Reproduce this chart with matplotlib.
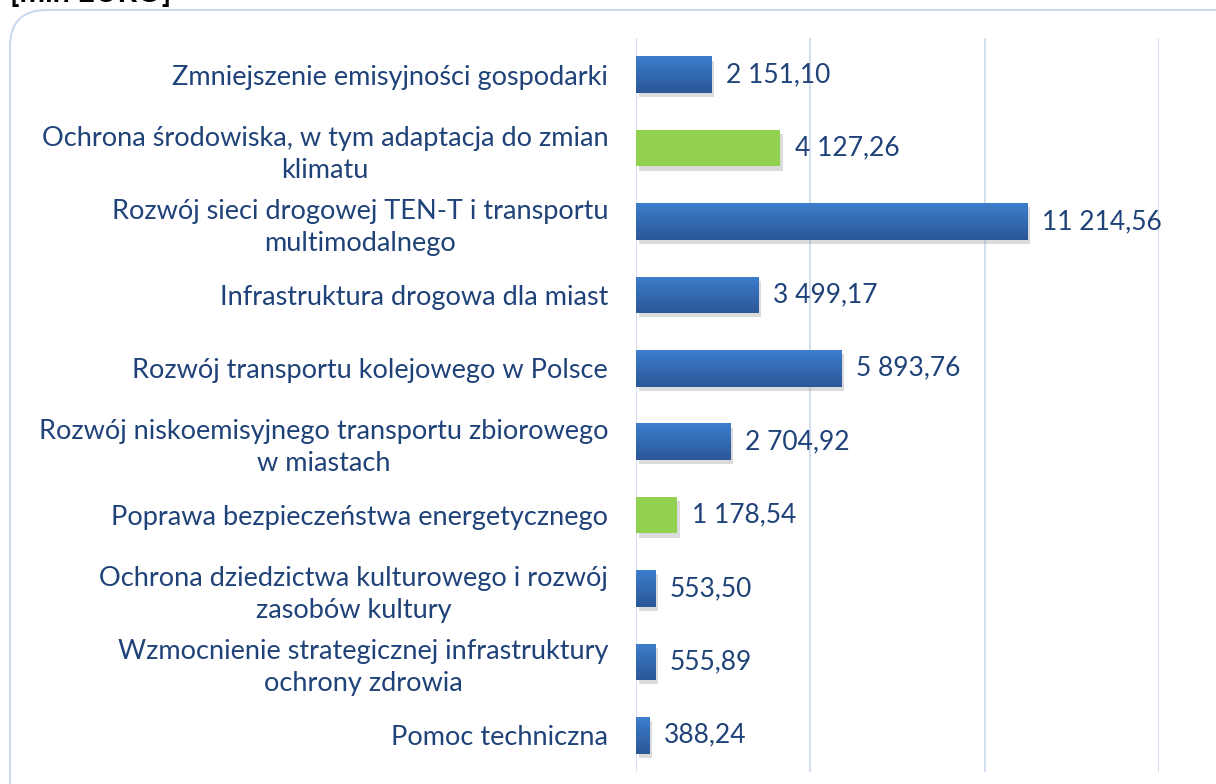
import matplotlib.pyplot as plt
import numpy as np
from matplotlib.patches import FancyBboxPatch
from matplotlib.colors import LinearSegmentedColormap
import matplotlib.patheffects as pe

categories = [
    "Zmniejszenie emisyjności gospodarki",
    "Ochrona środowiska, w tym adaptacja do zmian\nklimatu",
    "Rozwój sieci drogowej TEN-T i transportu\nmultimodalnego",
    "Infrastruktura drogowa dla miast",
    "Rozwój transportu kolejowego w Polsce",
    "Rozwój niskoemisyjnego transportu zbiorowego\nw miastach",
    "Poprawa bezpieczeństwa energetycznego",
    "Ochrona dziedzictwa kulturowego i rozwój\nzasobów kultury",
    "Wzmocnienie strategicznej infrastruktury\nochrony zdrowia",
    "Pomoc techniczna",
]
values = [2151.10, 4127.26, 11214.56, 3499.17, 5893.76, 2704.92, 1178.54, 553.50, 555.89, 388.24]
green = [False, True, False, False, False, False, True, False, False, False]

plt.rcParams['font.family'] = ['Lato', 'DejaVu Sans']
txt_col = '#1F4279'

fig = plt.figure(figsize=(12.16, 7.84), dpi=100)
frame = FancyBboxPatch((10 / 1216, -40 / 784), 1250 / 1216, 814 / 784,
                       boxstyle="round,pad=0,rounding_size=0.03",
                       transform=fig.transFigure, facecolor='white',
                       edgecolor='#C9D9EE', linewidth=1.5, mutation_aspect=1216 / 784,
                       zorder=-5)
fig.patches.append(frame)
fig.text(10 / 1216, 1 - 7 / 784, "[mln EURO]", fontsize=22, fontweight='bold',
         color='black', va='bottom', ha='left')

ax = fig.add_axes([636 / 1216, 12 / 784, (1159 - 636) / 1216, (746 - 12) / 784])
ax.set_facecolor('none')
y = np.arange(len(values))
cols = ['#92D050' if g else '#3A74C0' for g in green]
bars = ax.barh(y, values, height=0.5, color=cols, zorder=3,
               path_effects=[pe.SimplePatchShadow(offset=(2, -3), shadow_rgbFace='#8A8A8A', alpha=0.3),
                             pe.Normal()])

# gradient on blue bars
grad = np.linspace(0, 1, 50).reshape(-1, 1)
cmap = LinearSegmentedColormap.from_list('b', ['#3C7ECD', '#2B5797'])
for b, g in zip(bars, green):
    if g:
        continue
    x0, y0, w, h = b.get_x(), b.get_y(), b.get_width(), b.get_height()
    im = ax.imshow(grad, extent=(x0, x0 + w, y0 + h, y0), cmap=cmap, aspect='auto', zorder=4)
    im.set_clip_path(b)

for yi, v in zip(y, values):
    s = f"{v:,.2f}".replace(',', ' ').replace('.', ',')
    ax.text(v + 420, yi, s, va='center', ha='left', fontsize=19, color=txt_col, zorder=5)

ax.set_xlim(0, 15000)
ax.set_ylim(len(values) - 0.5, -0.5)
ax.set_xticks([0, 5000, 10000, 15000])
ax.xaxis.grid(True, color='#D4E0F0', linewidth=1.5, zorder=0)
ax.tick_params(axis='x', bottom=False, labelbottom=False)
ax.set_yticks(y)
ax.set_yticklabels(categories, fontsize=19.5, color=txt_col, linespacing=1.35)
ax.tick_params(axis='y', length=0, pad=20)
for lab in ax.get_yticklabels():
    lab.set_horizontalalignment('right')
    lab.set_multialignment('center')
for s in ax.spines.values():
    s.set_visible(False)
ax.axvline(0, color='#D4E0F0', linewidth=1.5, zorder=1)

fig.savefig('out.png', dpi=100)
